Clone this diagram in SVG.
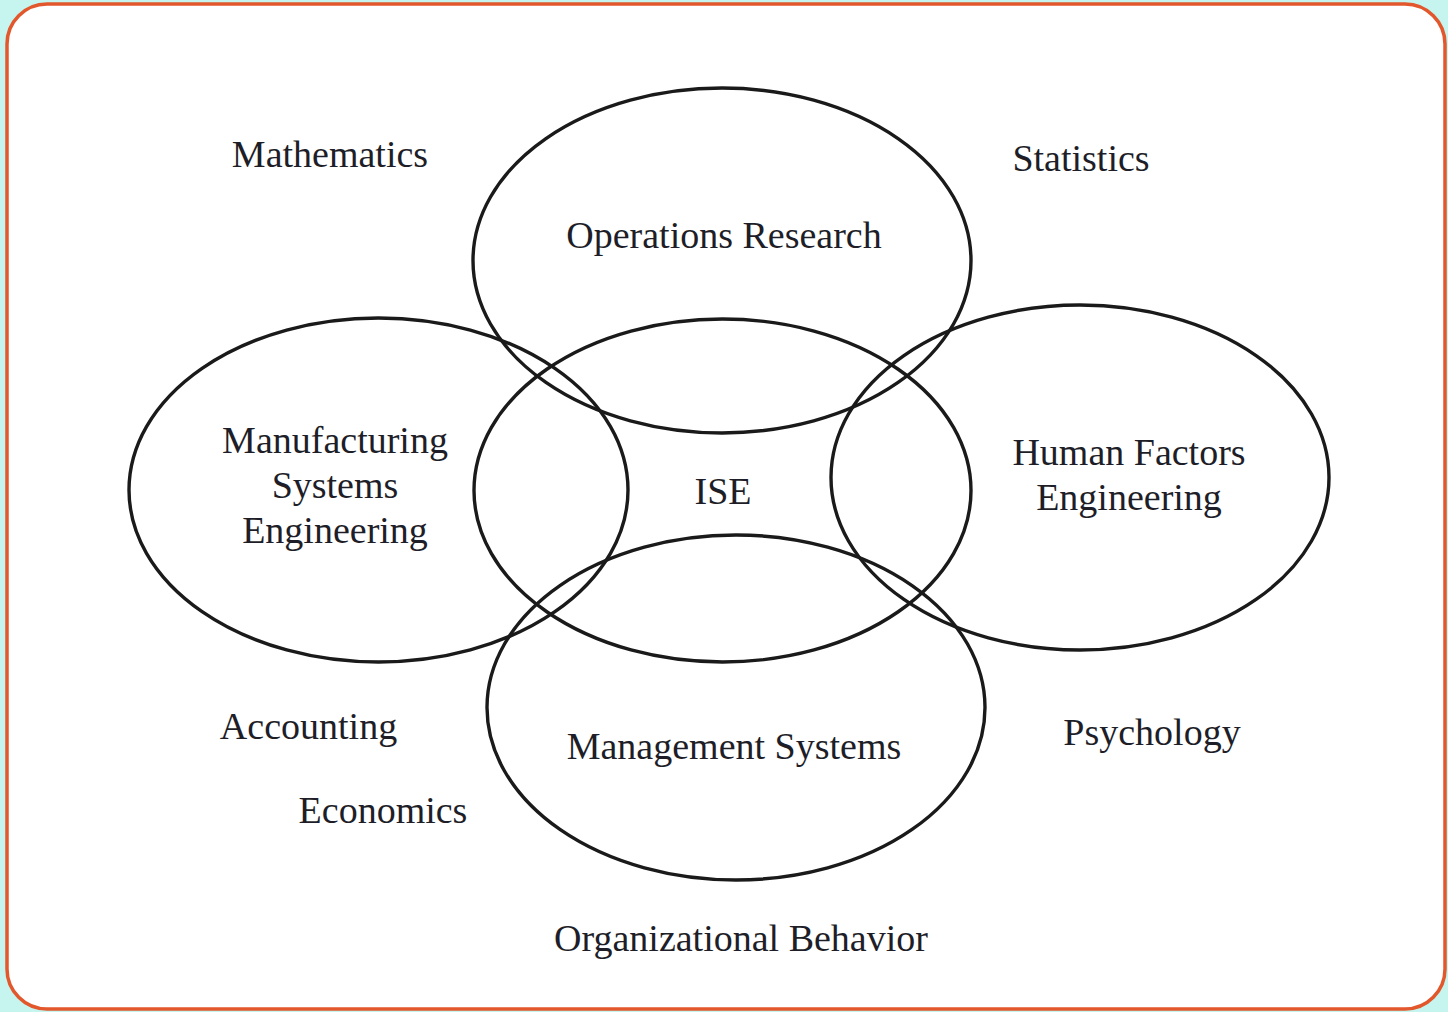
<svg xmlns="http://www.w3.org/2000/svg" width="1448" height="1012" viewBox="0 0 1448 1012">
<style>
.bg{fill:#c6f4ee}
.frame{fill:#ffffff;stroke:#e2572b;stroke-width:3.5}
.c{fill:none;stroke:#1a1a1a;stroke-width:3.4}
.t{font-family:"Liberation Serif","Times New Roman",serif;font-size:38px;fill:#1e1e28;text-anchor:middle}
</style>
<rect class="bg" x="0" y="0" width="1448" height="1012"/>
<rect class="frame" x="7" y="4" width="1438" height="1005" rx="40" ry="40"/>
<g id="node-or"><ellipse class="c" cx="722" cy="260.5" rx="249" ry="172.5"/><text class="t" x="724" y="248">Operations Research</text></g>
<g id="node-ise"><ellipse class="c" cx="722.5" cy="490.5" rx="248.5" ry="171.5"/><text class="t" x="723" y="504">ISE</text></g>
<g id="node-mse"><ellipse class="c" cx="378.5" cy="490" rx="249.5" ry="172"/><text class="t" x="335" y="453">Manufacturing</text><text class="t" x="335" y="498">Systems</text><text class="t" x="335" y="543">Engineering</text></g>
<g id="node-hfe"><ellipse class="c" cx="1080" cy="477.5" rx="249" ry="172.5"/><text class="t" x="1129" y="465">Human Factors</text><text class="t" x="1129" y="510">Engineering</text></g>
<g id="node-ms"><ellipse class="c" cx="736" cy="707.5" rx="249" ry="172.5"/><text class="t" x="734" y="759">Management Systems</text></g>
<g id="connectors"></g>
<g id="labels">
<text class="t" x="330" y="167">Mathematics</text>
<text class="t" x="1081" y="171">Statistics</text>
<text class="t" x="308.5" y="739">Accounting</text>
<text class="t" x="383" y="823">Economics</text>
<text class="t" x="1152" y="745">Psychology</text>
<text class="t" x="741" y="951">Organizational Behavior</text>
</g>
</svg>
